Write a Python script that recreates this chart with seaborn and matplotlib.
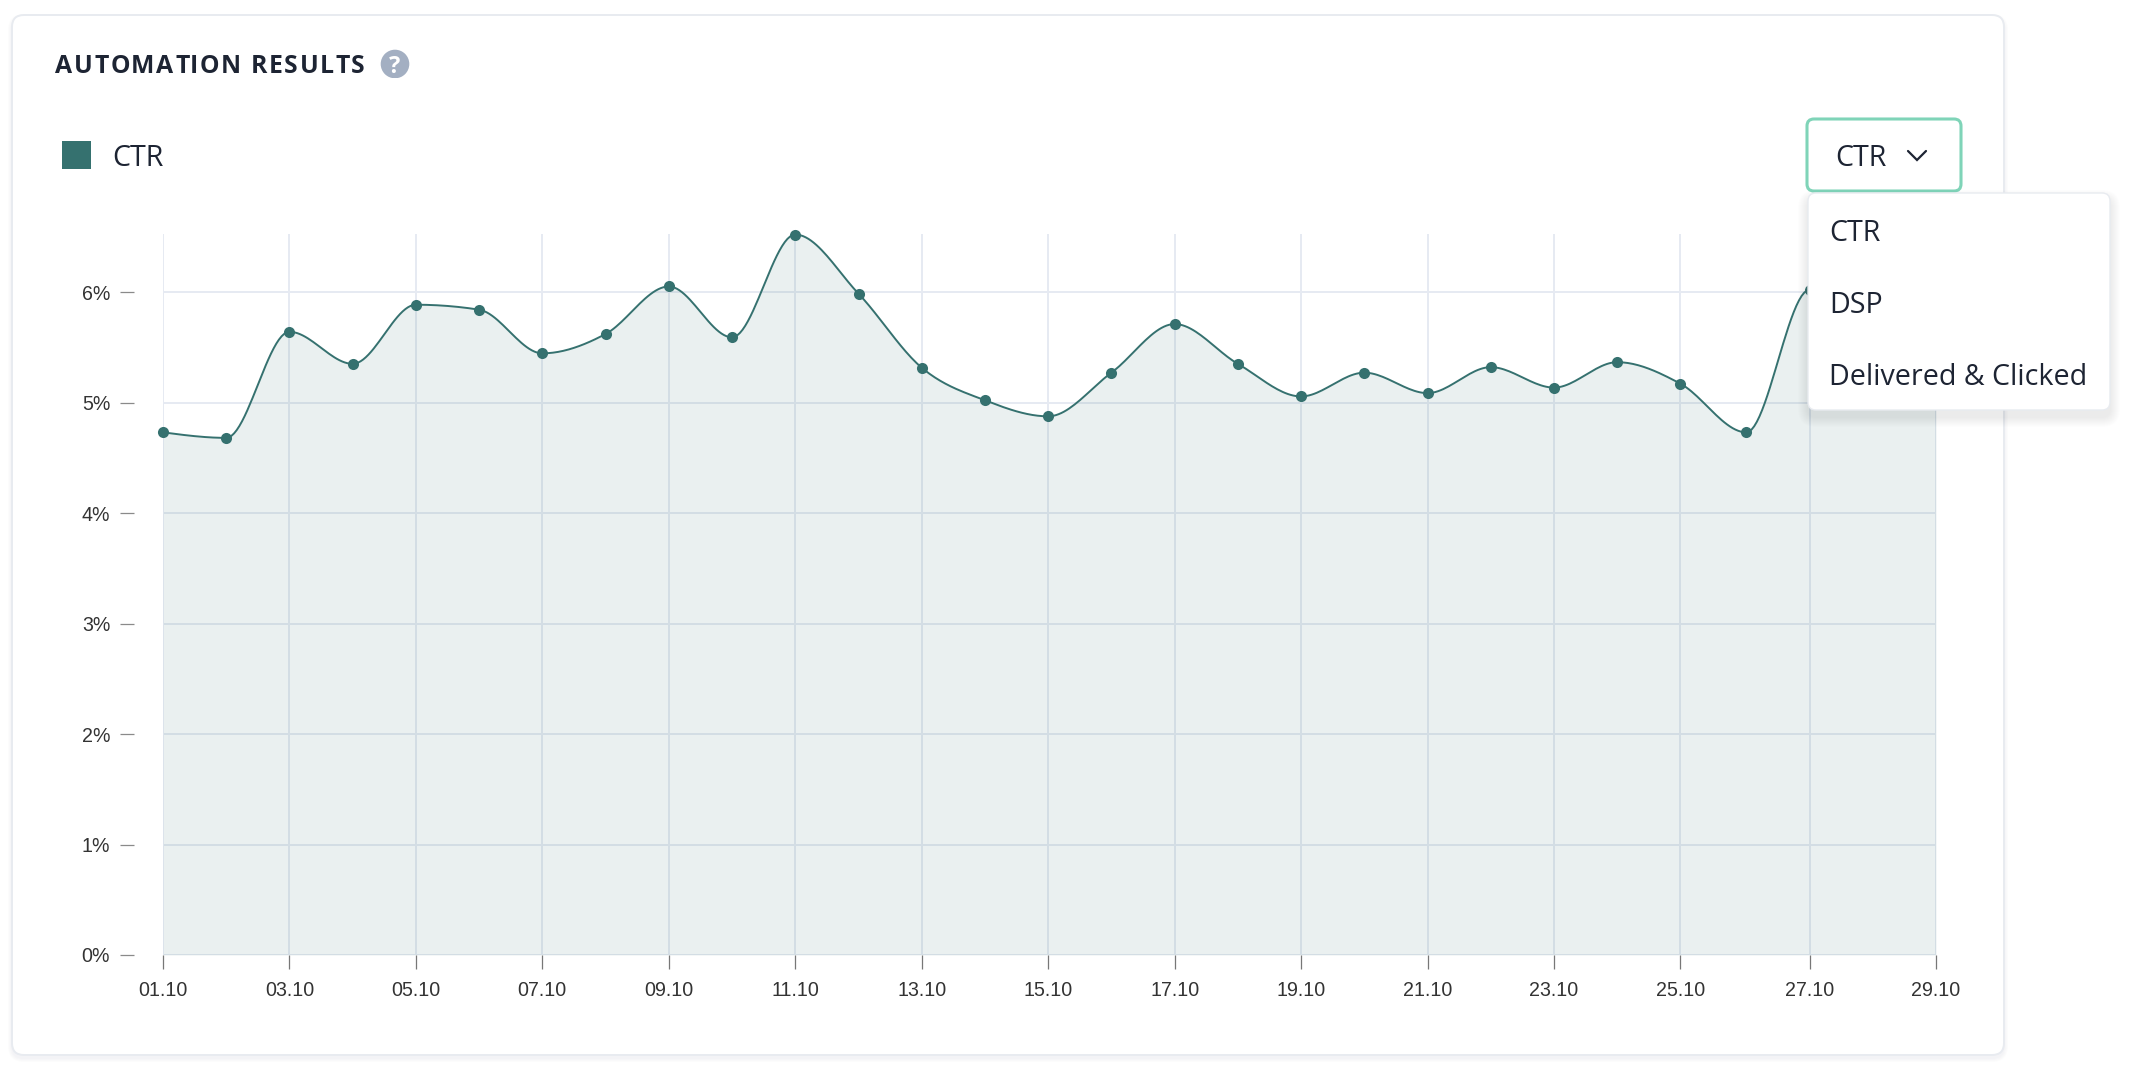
import numpy as np
import pandas as pd
import matplotlib
matplotlib.use("Agg")
import matplotlib.pyplot as plt
import seaborn as sns
from matplotlib.patches import Circle, FancyBboxPatch, Rectangle
from matplotlib.text import Text

# valores (28 e 29 ficam atras do menu, estimados)
datas = pd.date_range("2020-10-01", "2020-10-29", freq="D", tz="Europe/Warsaw")
ctr = [4.73, 4.68, 5.64, 5.35, 5.885, 5.84, 5.445, 5.62, 6.05, 5.59,
       6.52, 5.985, 5.315, 5.02, 4.875, 5.27, 5.71, 5.35, 5.055, 5.27,
       5.085, 5.32, 5.135, 5.365, 5.17, 4.73, 6.02, 5.95, 5.60]
y_ticks = [0, 1, 2, 3, 4, 5, 6]
y_labels = ["0%", "1%", "2%", "3%", "4%", "5%", "6%"]
opcoes = ["CTR", "DSP", "Delivered & Clicked"]

W, H = 2134, 1068
TEAL = "#35716f"
INK = "#1d2433"
GRID = "#e6eaf2"

# eixo de tempo real: o dia 25.10 tem 25 horas (fim do horario de verao)
dias = np.array((datas - datas[0]).total_seconds() / 86400)
x_ticks = dias[::2]
x_labels = [d.strftime("%d.%m") for d in datas[::2]]


def monotone_x(x, y, n=24):
    """Curva monotona cubica (mesmas tangentes do d3 curveMonotoneX)."""
    x, y = np.asarray(x, float), np.asarray(y, float)
    h = np.diff(x)
    s = np.diff(y) / h
    t = np.zeros_like(y)
    p = (s[:-1] * h[1:] + s[1:] * h[:-1]) / (h[:-1] + h[1:])
    t[1:-1] = (np.sign(s[:-1]) + np.sign(s[1:])) * np.minimum.reduce(
        [np.abs(s[:-1]), np.abs(s[1:]), 0.5 * np.abs(p)])
    t[0] = (3 * s[0] - t[1]) / 2
    t[-1] = (3 * s[-1] - t[-2]) / 2
    xs, ys = [], []
    for i in range(len(h)):
        u = np.linspace(0, 1, n, endpoint=False)
        xs.append(x[i] + u * h[i])
        ys.append((2*u**3 - 3*u**2 + 1) * y[i] + (u**3 - 2*u**2 + u) * h[i] * t[i]
                  + (-2*u**3 + 3*u**2) * y[i+1] + (u**3 - u**2) * h[i] * t[i+1])
    return np.append(np.concatenate(xs), x[-1]), np.append(np.concatenate(ys), y[-1])


def caixa(ax, x0, y0, x1, y1, raio, **kw):
    p = FancyBboxPatch((x0 + raio, y0 + raio), x1 - x0 - 2*raio, y1 - y0 - 2*raio,
                       boxstyle=f"round,pad={raio},rounding_size={raio}", **kw)
    ax.add_patch(p)
    return p


def sombra(ax, x0, y0, x1, y1, raio, dy, passos, alpha):
    for i in range(passos, 0, -1):
        caixa(ax, x0 - i, y0 + dy - i, x1 + i, y1 + dy + i, raio + i,
              fc="#3a4652", ec="none", alpha=alpha)


class TextoEspacado(Text):
    """Um unico texto, desenhado com letter-spacing em pixels."""

    def __init__(self, *args, espaco=0, **kw):
        super().__init__(*args, **kw)
        self.espaco = espaco

    def draw(self, renderer):
        s = self.get_text()
        x, y = self.get_position()
        fp = self.get_fontproperties()
        for i, letra in enumerate(s):
            avanco = renderer.get_text_width_height_descent(s[:i], fp, False)[0] if i else 0
            t = Text(x + avanco + i * self.espaco, y, letra, fontproperties=fp,
                     color=self.get_color(), va="baseline", transform=self.get_transform())
            t.set_figure(self.get_figure())
            t.draw(renderer)


sns.set_theme(style="white")
plt.rcParams["font.family"] = ["Open Sans", "DejaVu Sans"]

fig = plt.figure(figsize=(W / 100, H / 100), dpi=100, facecolor="white")

# fundo: cartao, titulo e legenda em coordenadas de pixel
bg = fig.add_axes([0, 0, 1, 1], zorder=0)
bg.set_xlim(0, W)
bg.set_ylim(H, 0)
bg.axis("off")
sombra(bg, 12, 15, 2004, 1055, 12, 3, 4, 0.012)
caixa(bg, 12, 15, 2004, 1055, 12, fc="white", ec="#e8ebf0", lw=1.4)
bg.add_artist(TextoEspacado(55, 72.7, "AUTOMATION RESULTS", espaco=1.7, fontsize=17.8,
                            fontweight="bold", color=INK, transform=bg.transData))
c = Circle((395, 64), 14.3, fc="#a3afc2", ec="none")
bg.add_patch(c)
c.set_clip_path(Rectangle((370, 40), 50, 37.8, transform=bg.transData))
bg.text(395, 73, "?", fontsize=17, fontweight="bold", color="white", ha="center", va="baseline")
bg.add_patch(Rectangle((62, 141), 29, 28, fc=TEAL, ec="none"))
bg.text(112.5, 165.7, "CTR", fontsize=20.6, color=INK, va="baseline")

# grafico
ax = fig.add_axes([163 / W, 1 - 955 / H, (1936 - 163) / W, (955 - 234) / H], zorder=1)
ax.patch.set_alpha(0)
xs, ys = monotone_x(dias, ctr)
curva = pd.DataFrame({"dia": xs, "ctr": ys})
pontos = pd.DataFrame({"dia": dias, "ctr": ctr})

ax.fill_between(xs, ys, 0, color=TEAL, alpha=0.10, lw=0, zorder=2)
sns.lineplot(data=curva, x="dia", y="ctr", color=TEAL, lw=1.4, estimator=None, sort=False, ax=ax, zorder=3)
sns.scatterplot(data=pontos, x="dia", y="ctr", color=TEAL, s=64, linewidth=0, ax=ax, zorder=4, clip_on=False)

# spine antes dos ticks: set_position apaga a configuracao do eixo
for lado in ["top", "right", "bottom", "left"]:
    ax.spines[lado].set_visible(False)
ax.spines["left"].set_position(("outward", 21))

ax.set_xlim(dias[0], dias[-1])
ax.set_ylim(0, 6.525)
ax.set_xlabel("")
ax.set_ylabel("")
ax.set_xticks(x_ticks)
ax.set_xticklabels(x_labels, family=["Liberation Sans"], fontsize=14.1, color="#333333")
ax.set_yticks(y_ticks)
ax.set_yticklabels(y_labels, family=["Liberation Sans"], fontsize=14.1, color="#333333")
ax.grid(True, color=GRID, lw=1.4, zorder=1)
ax.set_axisbelow(True)
ax.tick_params(axis="x", length=10, width=0.9, color="#777777", pad=8.5, bottom=True)
ax.tick_params(axis="y", length=10, width=0.9, color="#8a8a8a", pad=7, left=True)

# dropdown por cima do grafico
top = fig.add_axes([0, 0, 1, 1], zorder=2)
top.set_xlim(0, W)
top.set_ylim(H, 0)
top.axis("off")
caixa(top, 1807, 119, 1961, 191, 7, fc="white", ec="#7fd4b8", lw=2.2)
top.text(1835.5, 166, opcoes[0], fontsize=20.6, color=INK, va="baseline")
top.plot([1908, 1917, 1926], [151, 160, 151], color=INK, lw=1.6, solid_capstyle="round", solid_joinstyle="miter")
sombra(top, 1808, 193, 2110, 410, 8, 7, 10, 0.006)
caixa(top, 1808, 193, 2110, 410, 8, fc="white", ec="#e8ebf0", lw=1)
for texto, base in zip(opcoes, [241, 313, 385]):
    top.text(1829, base, texto, fontsize=20.6, color=INK, va="baseline")

fig.savefig("out.png", dpi=100)
